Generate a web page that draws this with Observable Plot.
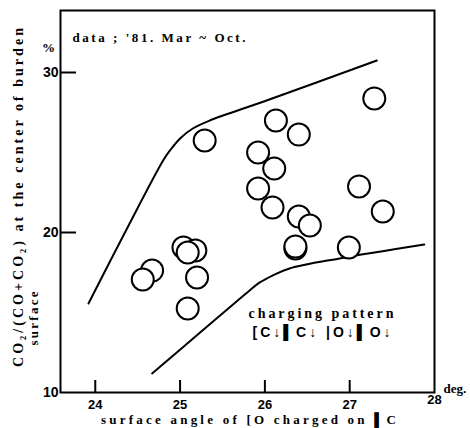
<!DOCTYPE html>
<html>
<head>
<meta charset="utf-8">
<script src="https://cdn.jsdelivr.net/npm/d3@7"></script>
<script src="https://cdn.jsdelivr.net/npm/@observablehq/plot@0.6"></script>
<style>
  html, body { margin: 0; padding: 0; background: #fff; }
  svg { display: block; }
</style>
</head>
<body>
<div id="chart"></div>
<script>
// surface angle (deg) and CO2/(CO+CO2) (%) for each observation
const angle = [25.29, 26.13, 26.40, 25.92, 26.11, 25.92, 26.09, 26.40, 26.53, 26.36, 26.36, 26.99, 27.11, 27.39, 27.29, 25.04, 25.18, 25.09, 24.67, 24.56, 25.20, 25.09];
const co2   = [25.75, 27.00, 26.12, 25.00, 24.00, 22.75, 21.56, 21.00, 20.44, 19.00, 19.12, 19.06, 22.88, 21.31, 28.38, 19.06, 18.88, 18.75, 17.62, 17.06, 17.19, 15.25];

// hand-drawn envelope lines
const upperX = [23.92, 24.35, 24.80, 24.88, 25.00, 25.15, 25.35, 26.02, 27.32];
const upperY = [15.56, 20.00, 24.50, 25.12, 25.88, 26.50, 27.00, 28.25, 30.75];
const lowerX = [24.67, 25.25, 25.82, 25.94, 26.09, 26.29, 26.88, 27.88];
const lowerY = [11.19, 13.81, 16.38, 16.88, 17.31, 17.75, 18.38, 19.25];

// axes
const xTicks = [24, 25, 26, 27];
const xTickLabels = ["24", "25", "26", "27"];
const yTicks = [20, 30];
const yTickLabels = [["10", 10], ["20", 20], ["30", 30]];

// texts
const dataNote = "data ; '81. Mar ~ Oct.";
const legendTitle = "charging pattern";
const legendPattern = "[C↓▌C↓ |O↓▌O↓";
const xTitle = "surface angle of [O charged on ▌C";
const yTitle = "CO₂/(CO+CO₂) at the center of burden";
const yTitle2 = "surface";
const yUnit = "%";
const xUnit = "deg.";

const points = angle.map((a, i) => ({a, v: co2[i]}));
const upper = upperX.map((a, i) => ({a, v: upperY[i]}));
const lower = lowerX.map((a, i) => ({a, v: lowerY[i]}));

const serif = "Liberation Serif, DejaVu Serif, serif";
const sans = "Liberation Sans, DejaVu Sans, sans-serif";
const T = {textAnchor: "middle", lineAnchor: "middle", fontWeight: "bold", fill: "black"};

const plot = Plot.plot({
  width: 470,
  height: 428,
  marginLeft: 60,
  marginRight: 36,
  marginTop: 10,
  marginBottom: 36,
  x: {domain: [23.59, 28], axis: null},
  y: {domain: [10, 33.875], axis: null},
  style: {background: "white", color: "black", overflow: "visible"},
  marks: [
    Plot.line(upper, {x: "a", y: "v", curve: "catmull-rom", stroke: "black", strokeWidth: 2}),
    Plot.line(lower, {x: "a", y: "v", curve: "catmull-rom", stroke: "black", strokeWidth: 2}),
    Plot.dot(points, {x: "a", y: "v", r: 11, stroke: "black", strokeWidth: 2, fill: "white"}),
    Plot.frame({stroke: "black", strokeWidth: 2}),
    Plot.tickX(xTicks, {x: d => d, insetTop: 370, stroke: "black", strokeWidth: 2}),
    Plot.tickY(yTicks, {y: d => d, insetRight: 358, stroke: "black", strokeWidth: 2}),
    Plot.text(xTicks, {...T, x: d => d, text: (d, i) => xTickLabels[i], frameAnchor: "bottom", dy: 12, fontSize: 13, fontFamily: sans}),
    Plot.text(["28"], {...T, frameAnchor: "bottom-right", dy: 7, fontSize: 13, fontFamily: sans}),
    Plot.text(yTickLabels, {...T, y: d => d[1], text: d => d[0], frameAnchor: "left", dx: -2, textAnchor: "end", fontSize: 14, fontFamily: sans}),
    Plot.text([yUnit], {...T, frameAnchor: "top-left", dx: -12, dy: 37, fontSize: 13, fontFamily: serif}),
    Plot.text([xUnit], {...T, frameAnchor: "bottom-right", dx: 9, dy: -4, textAnchor: "start", fontSize: 13, fontFamily: serif}),
    Plot.text([dataNote], {...T, frameAnchor: "top-left", dx: 12, dy: 27, textAnchor: "start", fontSize: 13, fontFamily: serif}),
    Plot.text([legendTitle], {...T, frameAnchor: "bottom-right", dx: -113.5, dy: -79, fontSize: 14, fontFamily: serif}),
    Plot.text([legendPattern], {...T, frameAnchor: "bottom-right", dx: -113, dy: -60, fontSize: 14, fontFamily: sans}),
    Plot.text([xTitle], {...T, frameAnchor: "bottom", dx: 1, dy: 27, fontSize: 13, fontFamily: serif}),
    Plot.text([yTitle], {...T, frameAnchor: "left", dx: -42, dy: -4, rotate: -90, fontSize: 14, fontFamily: serif}),
    Plot.text([yTitle2], {...T, frameAnchor: "left", dx: -27, dy: 117, rotate: -90, fontSize: 13, fontFamily: serif})
  ]
});

document.getElementById("chart").appendChild(plot);

const svg = d3.select(plot);
function fit(content, len) {
  svg.selectAll("text").filter(function() { return this.textContent === content; })
    .attr("textLength", len).attr("lengthAdjust", "spacing");
}
fit(dataNote, 173);
fit(legendTitle, 145);
fit(legendPattern, 138);
fit(xTitle, 295);
fit(yTitle, 339);
fit(yTitle2, 54);
</script>
</body>
</html>
